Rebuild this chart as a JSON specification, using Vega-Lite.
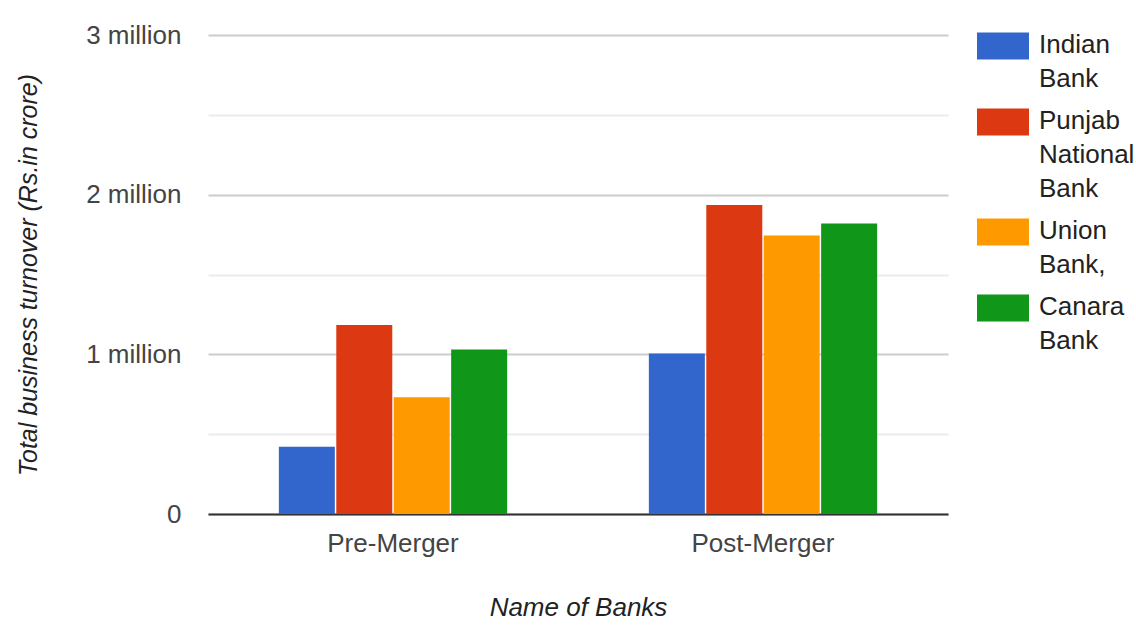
{
  "$schema": "https://vega.github.io/schema/vega-lite/v6.json",
  "autosize": "none",
  "width": 740,
  "height": 479,
  "padding": {"left": 208, "top": 35, "right": 188, "bottom": 111},
  "background": "white",
  "config": {
    "view": {"stroke": null},
    "font": "Liberation Sans"
  },
  "data": {
    "values": [
      {"stage": "Pre-Merger", "bank": "Indian Bank", "turnover": 421000},
      {"stage": "Pre-Merger", "bank": "Punjab National Bank", "turnover": 1183000},
      {"stage": "Pre-Merger", "bank": "Union Bank,", "turnover": 731000},
      {"stage": "Pre-Merger", "bank": "Canara Bank", "turnover": 1031000},
      {"stage": "Post-Merger", "bank": "Indian Bank", "turnover": 1006000},
      {"stage": "Post-Merger", "bank": "Punjab National Bank", "turnover": 1935000},
      {"stage": "Post-Merger", "bank": "Union Bank,", "turnover": 1745000},
      {"stage": "Post-Merger", "bank": "Canara Bank", "turnover": 1820000}
    ]
  },
  "mark": {"type": "bar"},
  "encoding": {
    "x": {
      "field": "stage",
      "type": "nominal",
      "sort": ["Pre-Merger", "Post-Merger"],
      "scale": {"paddingInner": 0.383, "paddingOuter": 0.1915},
      "axis": {
        "title": "Name of Banks",
        "labelAngle": 0,
        "labelFontSize": 26,
        "labelColor": "#444",
        "labelPadding": 16,
        "ticks": false,
        "domainColor": "#333",
        "domainWidth": 2,
        "titleFontSize": 26,
        "titleFontStyle": "italic",
        "titleFontWeight": "normal",
        "titleColor": "#222",
        "titlePadding": 38
      }
    },
    "xOffset": {
      "field": "bank",
      "type": "nominal",
      "sort": ["Indian Bank", "Punjab National Bank", "Union Bank,", "Canara Bank"],
      "scale": {"paddingInner": 0.025, "paddingOuter": 0}
    },
    "y": {
      "field": "turnover",
      "type": "quantitative",
      "scale": {"domain": [0, 3000000], "nice": false},
      "axis": {
        "title": "Total business turnover (Rs.in crore)",
        "values": [0, 500000, 1000000, 1500000, 2000000, 2500000, 3000000],
        "labelExpr": "datum.value % 1000000 === 0 ? (datum.value === 0 ? '0' : (datum.value / 1000000) + ' million') : ''",
        "labelFontSize": 26,
        "labelColor": "#444",
        "labelPadding": 27,
        "ticks": false,
        "domain": false,
        "gridColor": {"condition": {"test": "datum.value % 1000000 === 0", "value": "#cccccc"}, "value": "#ebebeb"},
        "gridWidth": 2,
        "titleFontSize": 25,
        "titleFontStyle": "italic",
        "titleFontWeight": "normal",
        "titleColor": "#222",
        "titlePadding": 44
      }
    },
    "color": {
      "field": "bank",
      "type": "nominal",
      "sort": ["Indian Bank", "Punjab National Bank", "Union Bank,", "Canara Bank"],
      "scale": {
        "domain": ["Indian Bank", "Punjab National Bank", "Union Bank,", "Canara Bank"],
        "range": ["#3366cc", "#dc3912", "#ff9900", "#109618"]
      },
      "legend": {
        "title": null,
        "orient": "none",
        "legendX": 769,
        "legendY": -15,
        "padding": 0,
        "symbolType": "M-1,-0.52H1V0.52H-1Z",
        "symbolSize": 2704,
        "symbolStrokeWidth": 0,
        "symbolOpacity": 1,
        "labelFontSize": 26,
        "labelColor": "#222",
        "labelOffset": 10,
        "labelBaseline": "top",
        "labelLimit": 200,
        "labelExpr": "split(datum.label, ' ')",
        "rowPadding": 4,
        "encode": {
          "labels": {"update": {"lineHeight": {"value": 34}, "dy": {"value": -14}}}
        }
      }
    }
  }
}
